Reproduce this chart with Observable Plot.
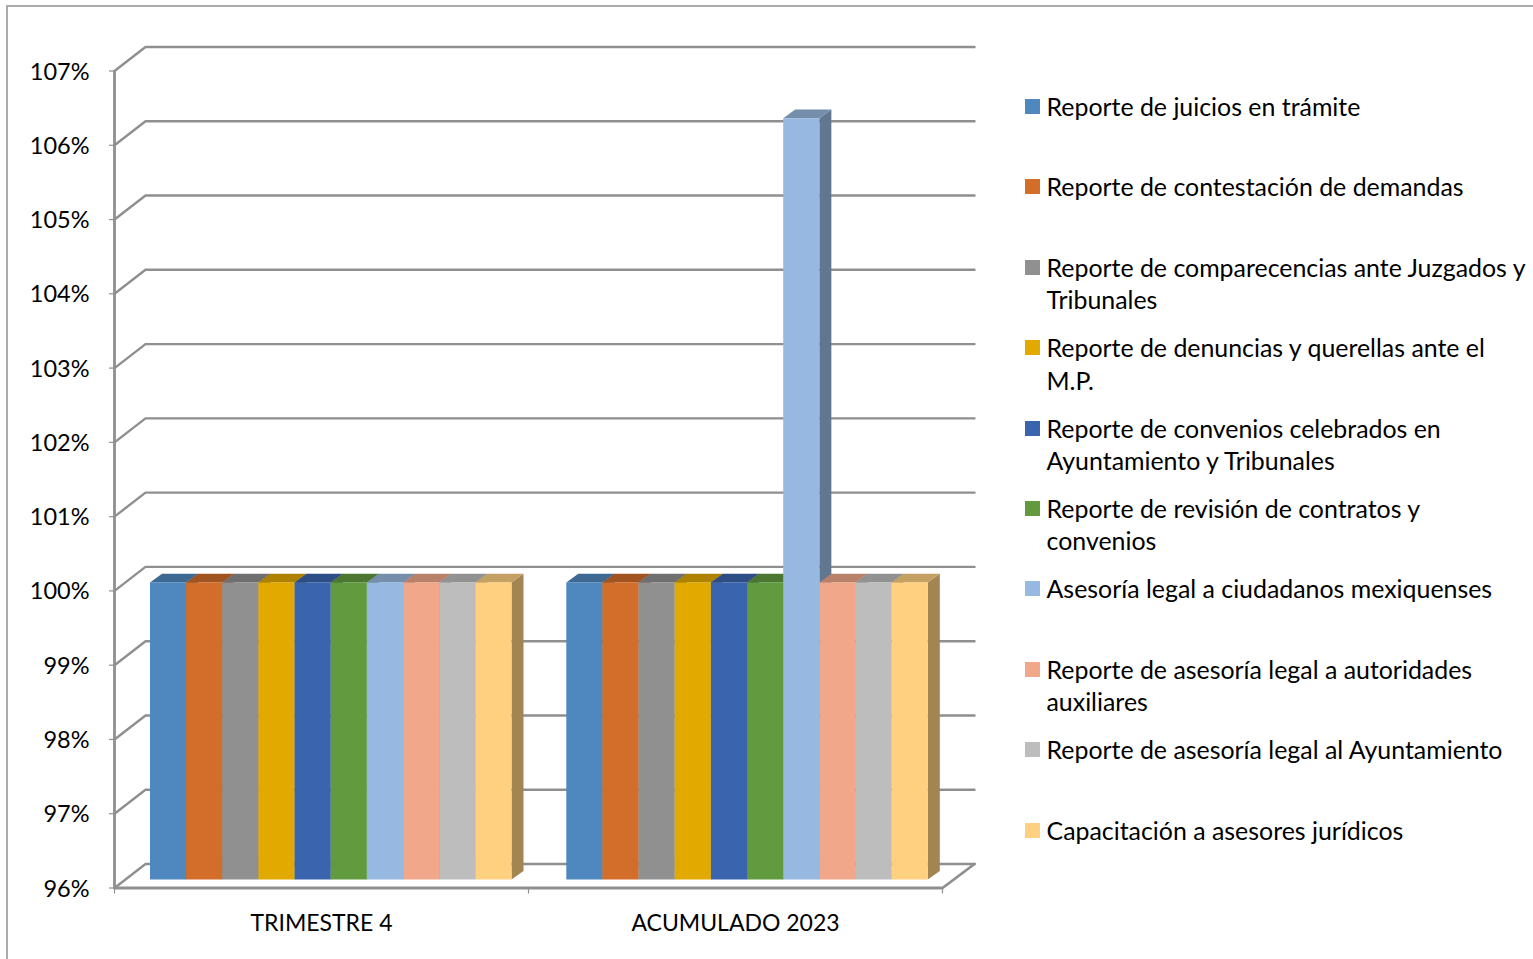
<!DOCTYPE html>
<html lang="es">
<head>
<meta charset="utf-8">
<script src="https://cdn.jsdelivr.net/npm/d3@7"></script>
<script src="https://cdn.jsdelivr.net/npm/@observablehq/plot@0.6"></script>
<style>
  html, body { margin: 0; padding: 0; background: #fff; overflow: hidden; }
  #page { position: relative; width: 1533px; height: 959px; font-family: Lato, sans-serif; color: #000; }
  #frame { position: absolute; left: 6px; top: 5px; right: 0; bottom: 0; border-left: 2px solid #ababab; border-top: 2px solid #ababab; pointer-events: none; }
  #chart { position: absolute; left: 0; top: 0; }
  #chart svg { display: block; }
  .item { position: absolute; left: 1025px; width: 508px; font-size: 24.9px; line-height: 32.4px; }
  .item i { position: absolute; left: 0; top: 9px; width: 15px; height: 15px; }
  .item span { display: block; margin-left: 21.5px; }
</style>
</head>
<body>
<div id="page"><div id="frame"></div><div id="chart"></div><div id="legend"></div></div>
<script>
const categories = ["TRIMESTRE 4", "ACUMULADO 2023"];
const seriesNames = [
  "Reporte de juicios en trámite",
  "Reporte de contestación de demandas",
  "Reporte de comparecencias ante Juzgados y Tribunales",
  "Reporte de denuncias y querellas ante el M.P.",
  "Reporte de convenios celebrados en Ayuntamiento y Tribunales",
  "Reporte de revisión de contratos y convenios",
  "Asesoría legal a ciudadanos mexiquenses",
  "Reporte de asesoría legal a autoridades auxiliares",
  "Reporte de asesoría legal al Ayuntamiento",
  "Capacitación a asesores jurídicos"
];
const trimestre4 = [100, 100, 100, 100, 100, 100, 100, 100, 100, 100];
const acumulado2023 = [100, 100, 100, 100, 100, 100, 106.25, 100, 100, 100];
const seriesColors = ["#4f88be", "#d26d2a", "#909090", "#e2a900", "#3a64ae", "#629a3f", "#97b8e0", "#f0a78a", "#bdbdbd", "#ffd080"];
const yTicks = [96, 97, 98, 99, 100, 101, 102, 103, 104, 105, 106, 107];

// Projection of the 3D box, in scale units
const wallX = 31 / 414, wallEndX = 32 / 414, wallY = 24 / 74.27;  // depth of the back wall
const planeY = 8 / 74.27;                          // bars stand this far into the floor
const faceX = 12 / 414, faceY = 8.6 / 74.27;       // depth of a single bar
const groupStart = [36 / 414, 1 + 38.3 / 414];
const barW = 36.15 / 414;
const gridColor = "#8f8f8f";

const shade = (c, k) => { const r = d3.rgb(c); return d3.rgb(r.r * k, r.g * k, r.b * k).formatHex(); };

const bars = [trimestre4, acumulado2023].flatMap((vals, g) => vals.map((v, s) => ({
  id: `${g}-${s}`, value: v, color: seriesColors[s],
  x1: groupStart[g] + s * barW, x2: groupStart[g] + (s + 1) * barW
})));

const sideRows = bars.flatMap(b => [
  {id: b.id, x: b.x2, y1: 96 + planeY, y2: b.value + planeY, fill: shade(b.color, 0.64)},
  {id: b.id, x: b.x2 + faceX, y1: 96 + planeY + faceY, y2: b.value + planeY + faceY, fill: shade(b.color, 0.64)}
]);
const topRows = bars.flatMap(b => [
  {id: b.id, y: b.value + planeY, x1: b.x1, x2: b.x2, fill: shade(b.color, 0.77)},
  {id: b.id, y: b.value + planeY + faceY, x1: b.x1 + faceX, x2: b.x2 + faceX, fill: shade(b.color, 0.77)}
]);
const gridRows = yTicks.flatMap(t => [
  {t, x: 0, y: t},
  {t, x: wallX, y: t + wallY},
  {t, x: categories.length + wallEndX, y: t + wallY}
]);
const floorRows = [
  {x: 0, y: 96},
  {x: categories.length, y: 96},
  {x: categories.length + wallEndX, y: 96 + wallY}
];

const chart = Plot.plot({
  width: 1000, height: 959,
  marginLeft: 114, marginRight: 26, marginTop: 46.5, marginBottom: 71.5,
  style: {fontFamily: "Lato, sans-serif", color: "#000", background: "transparent", overflow: "visible"},
  x: {domain: [0, categories.length + wallEndX], axis: null},
  y: {domain: [96, 107 + wallY], axis: null},
  marks: [
    Plot.line(gridRows, {x: "x", y: "y", z: "t", stroke: gridColor, strokeWidth: 2.4, curve: "linear"}),
    Plot.line(floorRows, {x: "x", y: "y", stroke: gridColor, strokeWidth: 2.8, curve: "linear"}),
    Plot.ruleX([0], {y1: 96, y2: 107, stroke: gridColor, strokeWidth: 2.8, strokeOpacity: 1}),
    Plot.ruleX([0, 1, 2], {y1: 96, y2: 96 - 6 / 74.27, stroke: gridColor, strokeWidth: 1.2}),
    Plot.ruleY(yTicks, {x1: -5 / 414, x2: 0, stroke: gridColor, strokeWidth: 1.2}),
    Plot.axisY({ticks: yTicks, tickFormat: d => d + "%", tickSize: 0, tickPadding: 25, dy: 1, fontSize: 23.5, label: null}),
    Plot.text(categories, {x: (d, i) => i + 0.5, y: () => 96, dy: 36, text: d => d, fontSize: 23, fill: "#000"}),
    Plot.areaY(sideRows, {x: "x", y1: "y1", y2: "y2", z: "id", fill: "fill", curve: "linear"}),
    Plot.areaX(topRows, {y: "y", x1: "x1", x2: "x2", z: "id", fill: "fill", curve: "linear"}),
    Plot.rect(bars, {x1: "x1", x2: "x2", y1: () => 96 + planeY, y2: d => d.value + planeY, fill: "color"})
  ]
});
document.getElementById("chart").append(chart);

const legend = document.getElementById("legend");
seriesNames.forEach((name, i) => {
  const it = document.createElement("div");
  it.className = "item";
  it.style.top = (107 - 17 + i * 80.4) + "px";
  const sw = document.createElement("i");
  sw.style.background = seriesColors[i];
  const sp = document.createElement("span");
  sp.textContent = name;
  it.append(sw, sp);
  legend.append(it);
});
</script>
</body>
</html>
